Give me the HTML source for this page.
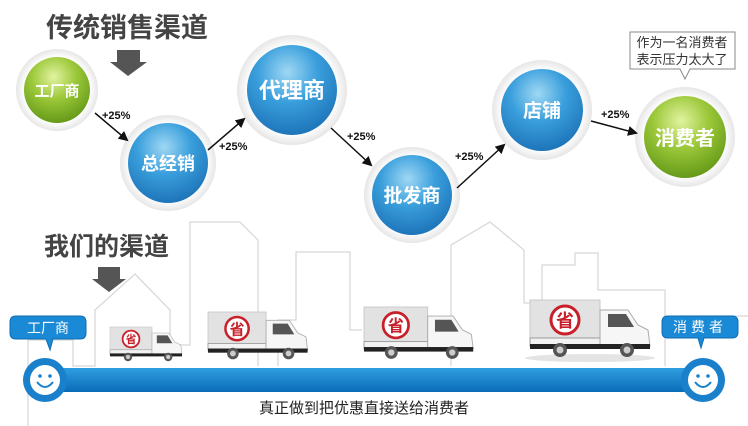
<!DOCTYPE html>
<html><head><meta charset="utf-8"><style>
html,body{margin:0;padding:0;background:#fff;width:748px;height:426px;overflow:hidden}
svg{display:block;font-family:"Liberation Sans","Noto Sans CJK SC",sans-serif}
</style></head><body>
<svg width="748" height="426" viewBox="0 0 748 426" xmlns="http://www.w3.org/2000/svg">
<defs>
<radialGradient id="blue" cx="45%" cy="30%" r="75%">
<stop offset="0" stop-color="#9fd8f4"/><stop offset="0.45" stop-color="#3a9fdc"/><stop offset="1" stop-color="#1a6fb5"/></radialGradient>
<radialGradient id="green" cx="45%" cy="30%" r="75%">
<stop offset="0" stop-color="#e2f3a0"/><stop offset="0.45" stop-color="#9cc83a"/><stop offset="1" stop-color="#5e9414"/></radialGradient>
<radialGradient id="ring" cx="50%" cy="50%" r="50%">
<stop offset="0.8" stop-color="#fff"/><stop offset="1" stop-color="#e6e6e6"/></radialGradient>
<linearGradient id="bar" x1="0" y1="0" x2="0" y2="1"><stop offset="0" stop-color="#2f9ee0"/><stop offset="1" stop-color="#0a6cb8"/></linearGradient>
<marker id="ah" markerWidth="10" markerHeight="10" refX="8" refY="5" orient="auto" markerUnits="userSpaceOnUse"><path d="M0,0 L10,5 L0,10 z" fill="#111"/></marker>
<g id="truck">
<rect x="0" y="0" width="70" height="44" fill="#e2e2e2" stroke="#c8c8c8"/>
<rect x="0" y="38" width="70" height="8" fill="#f2f2f2" stroke="#999"/>
<circle cx="35" cy="20" r="14" fill="#fff" stroke="#c8202a" stroke-width="3"/>
<text x="35" y="27" font-size="18" font-weight="bold" fill="#c8202a" text-anchor="middle">省</text>
<path d="M70,10 L98,10 L108,25 L118,30 L120,46 L70,46 z" fill="#f6f6f6" stroke="#aaa"/>
<path d="M78,14 L96,14 L104,27 L78,27 z" fill="#555"/>
<rect x="0" y="44" width="120" height="5" fill="#222"/>
<circle cx="30" cy="50" r="7" fill="#555"/><circle cx="30" cy="50" r="3.5" fill="#ccc"/>
<circle cx="97" cy="50" r="7" fill="#555"/><circle cx="97" cy="50" r="3.5" fill="#ccc"/>
</g>
</defs>

<!-- buildings -->
<g fill="none" stroke="#d8d8d8" stroke-width="1.3">
<path d="M28,426 L28,340 L73,340 L73,366 L95,366 L95,310 L135,274 L170,310 L170,345 L190,345 L190,222 L240,222 L258,240 L258,366"/>
<path d="M278,366 L278,320 L296,320 L296,252 L350,252 L350,330 L362,330"/>
<path d="M451,366 L451,245 L490,222 L524,250 L524,303 L542,303 L542,265 L575,265 L575,253 L598,253 L598,290 L621,290 L621,290 L665,290 L665,366"/>
<path d="M680,320 L680,316 L748,316"/>
</g>

<!-- titles -->
<text x="46" y="37" font-size="27" font-weight="bold" fill="#444">传统销售渠道</text>
<path d="M117,50 L140,50 L140,62 L147,62 L128,76 L110,62 L117,62 z" fill="#555"/>
<text x="44" y="255" font-size="25" font-weight="bold" fill="#444">我们的渠道</text>
<path d="M98,267 L120,267 L120,279 L126,279 L109,292 L92,279 L98,279 z" fill="#555"/>

<!-- circles -->
<g font-weight="bold" fill="#fff" text-anchor="middle">
<circle cx="57" cy="90" r="41" fill="url(#ring)"/><circle cx="57" cy="90" r="33" fill="url(#green)"/>
<text x="57" y="96" font-size="15" fill="#fff">工厂商</text>
<circle cx="168" cy="163" r="48" fill="url(#ring)"/><circle cx="168" cy="163" r="40" fill="url(#blue)"/>
<text x="168" y="170" font-size="18" fill="#fff">总经销</text>
<circle cx="292" cy="90" r="55" fill="url(#ring)"/><circle cx="292" cy="90" r="45" fill="url(#blue)"/>
<text x="292" y="98" font-size="22" fill="#fff">代理商</text>
<circle cx="412" cy="195" r="48" fill="url(#ring)"/><circle cx="412" cy="195" r="40" fill="url(#blue)"/>
<text x="412" y="202" font-size="19" fill="#fff">批发商</text>
<circle cx="542" cy="110" r="50" fill="url(#ring)"/><circle cx="542" cy="110" r="41" fill="url(#blue)"/>
<text x="542" y="117" font-size="19" fill="#fff">店铺</text>
<circle cx="685" cy="137" r="50" fill="url(#ring)"/><circle cx="685" cy="137" r="41" fill="url(#green)"/>
<text x="685" y="145" font-size="20" fill="#fff">消费者</text>
</g>

<!-- arrows -->
<g stroke="#111" stroke-width="1.5" marker-end="url(#ah)">
<line x1="95" y1="113" x2="127" y2="140"/>
<line x1="208" y1="150" x2="244" y2="119"/>
<line x1="331" y1="128" x2="371" y2="165"/>
<line x1="457" y1="188" x2="504" y2="145"/>
<line x1="591" y1="121" x2="636" y2="133"/>
</g>
<g font-size="11" font-weight="bold" fill="#111">
<text x="102" y="119">+25%</text>
<text x="219" y="150">+25%</text>
<text x="347" y="140">+25%</text>
<text x="455" y="160">+25%</text>
<text x="601" y="118">+25%</text>
</g>

<!-- callout -->
<path d="M630,32 L735,32 L735,69 L690,69 L685,79 L680,69 L630,69 z" fill="#fff" stroke="#888"/>
<text x="682" y="47" font-size="13" fill="#333" text-anchor="middle">作为一名消费者</text>
<text x="682" y="64" font-size="13" fill="#333" text-anchor="middle">表示压力太大了</text>

<!-- trucks -->
<ellipse cx="590" cy="358" rx="65" ry="4" fill="#e4e4e4"/>
<use href="#truck" transform="translate(110,327) scale(0.6)"/>
<use href="#truck" transform="translate(208,312) scale(0.83)"/>
<use href="#truck" transform="translate(364,307) scale(0.91)"/>
<use href="#truck" transform="translate(530,300)"/>

<!-- bar -->
<rect x="40" y="368" width="655" height="24" fill="url(#bar)"/>
<circle cx="45" cy="380" r="22" fill="#1a80cc"/><circle cx="45" cy="380" r="15" fill="#fff"/>
<circle cx="40" cy="376" r="1.8" fill="#1a80cc"/><circle cx="50" cy="376" r="1.8" fill="#1a80cc"/>
<path d="M37,382 Q45,392 53,382" fill="none" stroke="#1a80cc" stroke-width="2"/>
<circle cx="703" cy="380" r="22" fill="#1a80cc"/><circle cx="703" cy="380" r="15" fill="#fff"/>
<circle cx="698" cy="376" r="1.8" fill="#1a80cc"/><circle cx="708" cy="376" r="1.8" fill="#1a80cc"/>
<path d="M695,382 Q703,392 711,382" fill="none" stroke="#1a80cc" stroke-width="2"/>

<!-- bubbles -->
<path d="M16,316 L80,316 Q86,316 86,322 L86,333 Q86,339 80,339 L53,339 L50,350 L46,339 L16,339 Q10,339 10,333 L10,322 Q10,316 16,316 z" fill="#1a8ad6" stroke="#0e6cb0"/>
<text x="48" y="333" font-size="14" fill="#fff" text-anchor="middle">工厂商</text>
<path d="M668,316 L732,316 Q738,316 738,322 L738,332 Q738,338 732,338 L704,338 L701,348 L698,338 L668,338 Q662,338 662,332 L662,322 Q662,316 668,316 z" fill="#1a8ad6" stroke="#0e6cb0"/>
<text x="700" y="332" font-size="14" fill="#fff" text-anchor="middle" letter-spacing="4">消费者</text>

<text x="364" y="413" font-size="15" fill="#222" text-anchor="middle">真正做到把优惠直接送给消费者</text>
</svg>
</body></html>
